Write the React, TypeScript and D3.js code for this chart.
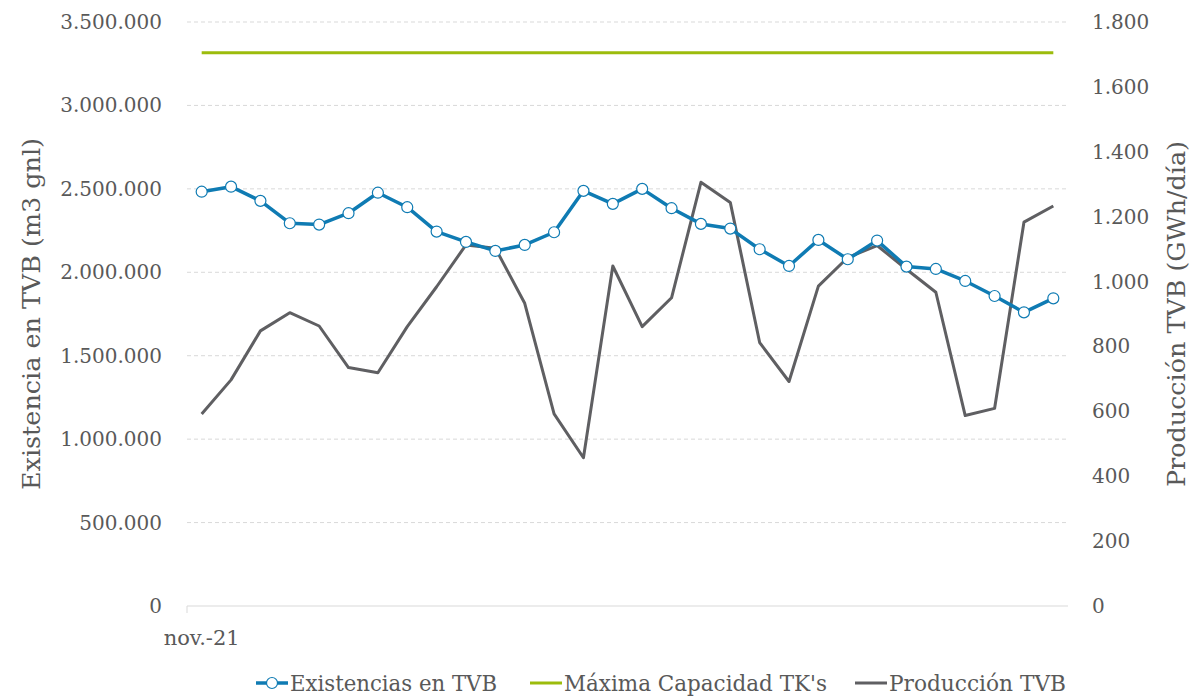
import { useEffect, useRef } from 'react';
import * as d3 from 'd3';

// daily values, nov.-21 (30 days)
const days = d3.range(1, 31).map((d) => `${d}/11/2021`);
const existencias = [
  2483000, 2513000, 2428000, 2294000, 2286000, 2354000, 2477000, 2390000, 2244000, 2182000,
  2128000, 2164000, 2240000, 2488000, 2410000, 2500000, 2384000, 2290000, 2262000, 2138000,
  2038000, 2194000, 2078000, 2190000, 2034000, 2020000, 1948000, 1858000, 1760000, 1844000,
];
const maxCapacidad = days.map(() => 3315000);
const produccion = [
  592, 697, 848, 904, 863, 735, 719, 861, 984, 1113,
  1103, 933, 592, 457, 1048, 861, 950, 1306, 1244, 812,
  692, 986, 1074, 1111, 1038, 967, 587, 609, 1183, 1233,
];
const leftTicks = [0, 500000, 1000000, 1500000, 2000000, 2500000, 3000000, 3500000];
const rightTicks = [0, 200, 400, 600, 800, 1000, 1200, 1400, 1600, 1800];

const BLUE = '#0f7bb3';
const GREEN = '#9cbc0c';
const GRAY = '#5f5f62';
const TEXT = '#595959';
const FONT = "'DejaVu Serif', serif";

const fmt = (v: number) => d3.format(',')(v).replace(/,/g, '.');

export default function App() {
  const svgRef = useRef<SVGSVGElement | null>(null);

  useEffect(() => {
    if (!svgRef.current) return;
    const svg = d3.select(svgRef.current);
    svg.selectAll('*').remove();

    const left = 187;
    const right = 1068;
    const top = 22;
    const bottom = 606;

    const x = d3.scaleBand().domain(days).range([left, right]);
    const cx = (d: string) => (x(d) as number) + x.bandwidth() / 2;
    const yL = d3.scaleLinear().domain([0, 3500000]).range([bottom, top]);
    const yR = d3.scaleLinear().domain([0, 1800]).range([bottom, top]);

    // gridlines
    svg.append('g')
      .selectAll('line')
      .data(leftTicks.slice(1))
      .join('line')
      .attr('x1', left)
      .attr('x2', right)
      .attr('y1', (d) => yL(d))
      .attr('y2', (d) => yL(d))
      .attr('stroke', '#d9d9d9')
      .attr('stroke-width', 1)
      .attr('stroke-dasharray', '4,3');

    // x baseline + tick
    svg.append('line')
      .attr('x1', left).attr('x2', right)
      .attr('y1', bottom).attr('y2', bottom)
      .attr('stroke', '#d9d9d9').attr('stroke-width', 1);
    svg.append('line')
      .attr('x1', left).attr('x2', left)
      .attr('y1', bottom).attr('y2', bottom + 7)
      .attr('stroke', '#d9d9d9').attr('stroke-width', 1);

    svg.append('text')
      .attr('x', cx(days[0]))
      .attr('y', bottom + 39)
      .attr('text-anchor', 'middle')
      .attr('font-family', FONT)
      .attr('font-size', 21)
      .attr('fill', TEXT)
      .text('nov.-21');

    // left axis labels
    svg.append('g')
      .selectAll('text')
      .data(leftTicks)
      .join('text')
      .attr('x', 162)
      .attr('y', (d) => yL(d) + 7)
      .attr('text-anchor', 'end')
      .attr('font-family', FONT)
      .attr('font-size', 20)
      .attr('fill', TEXT)
      .text((d) => fmt(d));

    // right axis labels
    svg.append('g')
      .selectAll('text')
      .data(rightTicks)
      .join('text')
      .attr('x', 1092)
      .attr('y', (d) => yR(d) + 7)
      .attr('text-anchor', 'start')
      .attr('font-family', FONT)
      .attr('font-size', 20)
      .attr('fill', TEXT)
      .text((d) => fmt(d));

    // axis titles
    svg.append('text')
      .attr('transform', `translate(40, ${(top + bottom) / 2}) rotate(-90)`)
      .attr('text-anchor', 'middle')
      .attr('font-family', FONT)
      .attr('font-size', 25)
      .attr('fill', TEXT)
      .attr('textLength', 352)
      .attr('lengthAdjust', 'spacingAndGlyphs')
      .text('Existencia en TVB (m3 gnl)');

    svg.append('text')
      .attr('transform', `translate(1185, ${(top + bottom) / 2}) rotate(-90)`)
      .attr('text-anchor', 'middle')
      .attr('font-family', FONT)
      .attr('font-size', 25)
      .attr('fill', TEXT)
      .attr('textLength', 346)
      .attr('lengthAdjust', 'spacingAndGlyphs')
      .text('Producción TVB (GWh/día)');

    // green capacity line
    svg.append('path')
      .datum(maxCapacidad)
      .attr('fill', 'none')
      .attr('stroke', GREEN)
      .attr('stroke-width', 3)
      .attr('d', d3.line<number>().x((_, i) => cx(days[i])).y((d) => yL(d)));

    // gray production line
    svg.append('path')
      .datum(produccion)
      .attr('fill', 'none')
      .attr('stroke', GRAY)
      .attr('stroke-width', 3)
      .attr('stroke-linejoin', 'round')
      .attr('d', d3.line<number>().x((_, i) => cx(days[i])).y((d) => yR(d)));

    // blue stock line with markers
    svg.append('path')
      .datum(existencias)
      .attr('fill', 'none')
      .attr('stroke', BLUE)
      .attr('stroke-width', 3.5)
      .attr('stroke-linejoin', 'round')
      .attr('d', d3.line<number>().x((_, i) => cx(days[i])).y((d) => yL(d)));

    svg.append('g')
      .selectAll('circle')
      .data(existencias)
      .join('circle')
      .attr('cx', (_, i) => cx(days[i]))
      .attr('cy', (d) => yL(d))
      .attr('r', 5.5)
      .attr('fill', '#fff')
      .attr('stroke', BLUE)
      .attr('stroke-width', 1.2);

    // legend
    const ly = 683;
    const legend = [
      { label: 'Existencias en TVB', color: BLUE, x0: 256, tx: 290, len: 207, marker: true },
      { label: "Máxima Capacidad TK's", color: GREEN, x0: 530, tx: 564, len: 263, marker: false },
      { label: 'Producción TVB', color: GRAY, x0: 855, tx: 889, len: 177, marker: false },
    ];
    const lg = svg.append('g');
    legend.forEach((l) => {
      lg.append('line')
        .attr('x1', l.x0).attr('x2', l.x0 + 32)
        .attr('y1', ly).attr('y2', ly)
        .attr('stroke', l.color)
        .attr('stroke-width', l.marker ? 3.5 : 3);
      if (l.marker) {
        lg.append('circle')
          .attr('cx', l.x0 + 16).attr('cy', ly).attr('r', 5.5)
          .attr('fill', '#fff').attr('stroke', l.color).attr('stroke-width', 1.2);
      }
      lg.append('text')
        .attr('x', l.tx)
        .attr('y', ly + 8)
        .attr('font-family', FONT)
        .attr('font-size', 22)
        .attr('fill', TEXT)
        .attr('textLength', l.len)
        .attr('lengthAdjust', 'spacingAndGlyphs')
        .text(l.label);
    });
  }, []);

  return (
    <svg
      ref={svgRef}
      width={1192}
      height={697}
      style={{ position: 'absolute', left: 0, top: 0, background: '#fff' }}
    />
  );
}
